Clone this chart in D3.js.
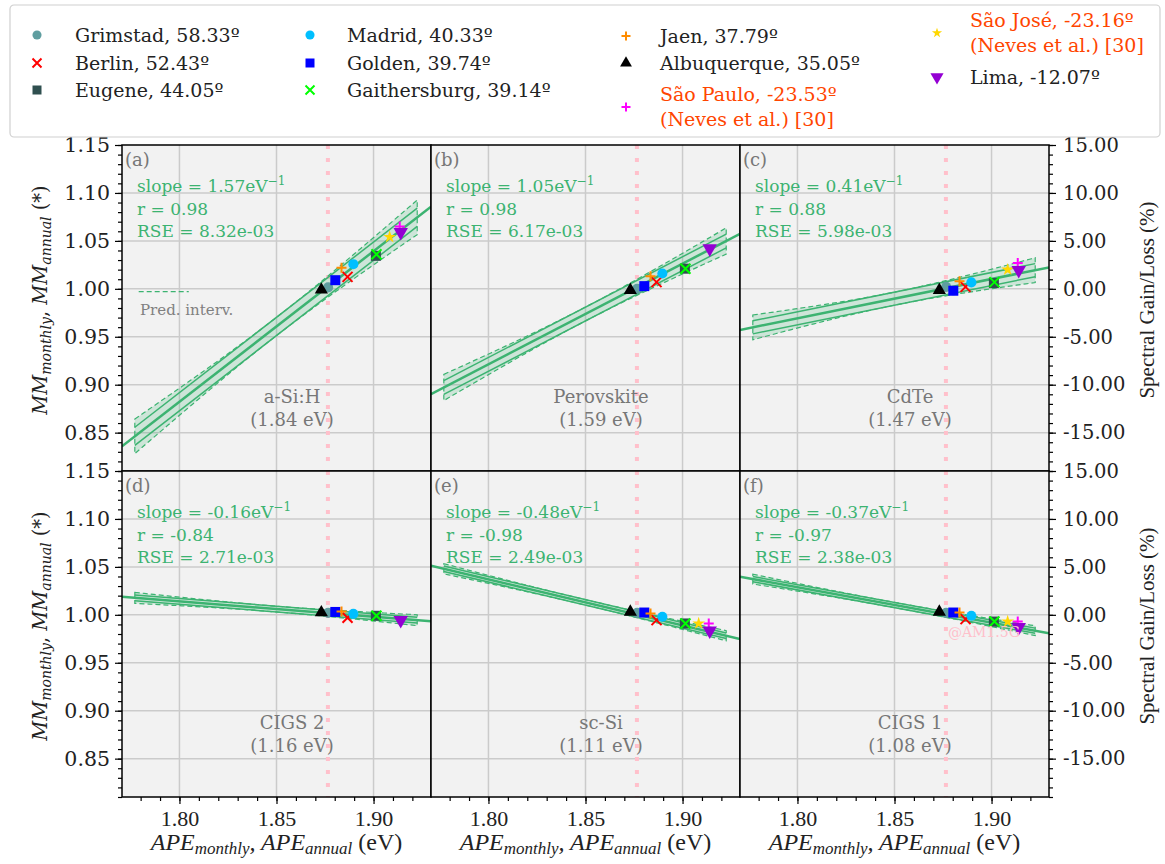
<!DOCTYPE html>
<html>
<head>
<meta charset="utf-8">
<script src="https://cdn.jsdelivr.net/npm/d3@7"></script>
<style>
  body { margin: 0; background: #fff; }
  svg { display: block; font-family: "DejaVu Serif", serif; }
</style>
</head>
<body>
<svg id="chart" width="1165" height="864"></svg>
<script>
// ---- data ----
const siteNames = ["Grimstad, 58.33º", "Berlin, 52.43º", "Eugene, 44.05º", "Madrid, 40.33º",
  "Golden, 39.74º", "Gaithersburg, 39.14º", "Jaen, 37.79º", "Albuquerque, 35.05º",
  "São Paulo, -23.53º\n(Neves et al.) [30]", "São José, -23.16º\n(Neves et al.) [30]", "Lima, -12.07º"];
const siteColors = ["#5f9ea0", "#ff0000", "#2f4f4f", "#00bfff", "#0000ff", "#00ff00",
  "#ff8c00", "#000000", "#ff00ff", "#ffd700", "#9400d3"];
const siteShapes = ["circle", "x", "square", "circle", "square", "x", "plus", "triUp", "plus", "star", "triDown"];
const siteApe = [1.8766, 1.8866, 1.9012, 1.8896, 1.8803, 1.9015, 1.8835, 1.8731, 1.9135, 1.9083, 1.9140];

const panelLetters = ["(a)", "(b)", "(c)", "(d)", "(e)", "(f)"];
const materials = ["a-Si:H", "Perovskite", "CdTe", "CIGS 2", "sc-Si", "CIGS 1"];
const bandgaps = ["(1.84 eV)", "(1.59 eV)", "(1.47 eV)", "(1.16 eV)", "(1.11 eV)", "(1.08 eV)"];
const slopeLabels = ["1.57", "1.05", "0.41", "-0.16", "-0.48", "-0.37"];
const rLabels = ["0.98", "0.98", "0.88", "-0.84", "-0.98", "-0.97"];
const rseLabels = ["8.32e-03", "6.17e-03", "5.98e-03", "2.71e-03", "2.49e-03", "2.38e-03"];
const slopes = [1.57, 1.05, 0.41, -0.16, -0.48, -0.37];
const fitAtRef = [1.000, 1.000, 1.000, 1.002, 1.001, 1.001];   // fitted MM at APE = 1.875
const predHalf = [0.0095, 0.0072, 0.0068, 0.0030, 0.0028, 0.0027];

// MM per site, one array per panel (null = not shown)
const mmA = [1.0015, 1.0125, 1.0344, 1.0257, 1.0090, 1.0360, 1.0220, 0.9990, 1.0650, 1.0540, 1.0590];
const mmB = [1.0000, 1.0070, 1.0210, 1.0160, 1.0028, 1.0210, 1.0130, 0.9986, null, null, 1.0420];
const mmC = [1.0020, 1.0020, 1.0060, 1.0067, 0.9980, 1.0070, 1.0080, 0.9986, 1.0270, 1.0200, 1.0195];
const mmD = [1.0020, 0.9970, 0.9990, 1.0010, 1.0030, 0.9990, 1.0034, 1.0024, null, null, 0.9945];
const mmE = [1.0020, 0.9945, 0.9910, 0.9980, 1.0024, 0.9910, 1.0014, 1.0030, 0.9910, 0.9910, 0.9834];
const mmF = [1.0020, 0.9955, 0.9930, 0.9990, 1.0024, 0.9930, 1.0024, 1.0030, 0.9930, 0.9930, 0.9870];
const mmPanels = [mmA, mmB, mmC, mmD, mmE, mmF];

const apeRef = 1.875;        // pivot of the fitted lines
const apeAM15G = 1.8765;     // pink reference line
const bandRange = [1.777, 1.9225];
const xTicks = [1.80, 1.85, 1.90];
const yTicks = [0.85, 0.90, 0.95, 1.00, 1.05, 1.10, 1.15];
const pctTicks = [-15, -10, -5, 0, 5, 10, 15];

// ---- layout ----
const plotLeft = 122, panelW = 309, plotTop = 145, rowH = 326;
const green = "#3cb371";
const svg = d3.select("#chart");

const xScale = i => d3.scaleLinear().domain([1.7704, 1.9296]).range([plotLeft + i * panelW, plotLeft + (i + 1) * panelW]);
const yScale = r => d3.scaleLinear().domain([0.81, 1.15]).range([plotTop + (r + 1) * rowH, plotTop + r * rowH]);

function symbolPath(shape, size) {
  if (shape === "circle") return d3.symbol(d3.symbolCircle, size * size * 0.8)();
  if (shape === "square") return d3.symbol(d3.symbolSquare, size * size)();
  if (shape === "triUp" || shape === "triDown") return d3.symbol(d3.symbolTriangle, size * size * 0.75)();
  if (shape === "star") return d3.symbol(d3.symbolStar, size * size * 0.5)();
}
function drawMarker(g, shape, color, cx, cy, size) {
  const s = size / 2;
  if (shape === "x") {
    g.append("path").attr("d", `M${cx - s},${cy - s}L${cx + s},${cy + s}M${cx - s},${cy + s}L${cx + s},${cy - s}`)
      .attr("stroke", color).attr("stroke-width", 2).attr("fill", "none");
  } else if (shape === "plus") {
    g.append("path").attr("d", `M${cx - s},${cy}L${cx + s},${cy}M${cx},${cy - s}L${cx},${cy + s}`)
      .attr("stroke", color).attr("stroke-width", 2).attr("fill", "none");
  } else {
    g.append("path").attr("d", symbolPath(shape, size))
      .attr("transform", `translate(${cx},${cy})` + (shape === "triDown" ? " rotate(180)" : ""))
      .attr("fill", color);
  }
}

// ---- panels ----
const defs = svg.append("defs");
for (let p = 0; p < 6; p++) {
  const col = p % 3, row = Math.floor(p / 3);
  const xs = xScale(col), ys = yScale(row);
  const x0 = xs.range()[0], x1 = xs.range()[1], y0 = ys.range()[1], y1 = ys.range()[0];
  const g = svg.append("g");
  defs.append("clipPath").attr("id", "clip" + p).append("rect")
    .attr("x", x0).attr("y", y0).attr("width", x1 - x0).attr("height", y1 - y0);

  g.append("rect").attr("x", x0).attr("y", y0).attr("width", x1 - x0).attr("height", y1 - y0).attr("fill", "#f2f2f2");

  // grid
  g.selectAll(".vg").data(xTicks).join("line")
    .attr("x1", d => xs(d)).attr("x2", d => xs(d)).attr("y1", y0).attr("y2", y1)
    .attr("stroke", "#cbcbcb").attr("stroke-width", 1.5);
  g.selectAll(".hg").data(yTicks.slice(0, -1)).join("line")
    .attr("x1", x0).attr("x2", x1).attr("y1", d => ys(d)).attr("y2", d => ys(d))
    .attr("stroke", "#cbcbcb").attr("stroke-width", 1.5);

  // AM1.5G reference
  g.append("line").attr("x1", xs(apeAM15G)).attr("x2", xs(apeAM15G)).attr("y1", y0).attr("y2", y1)
    .attr("stroke", "#ffc0cb").attr("stroke-width", 4).attr("stroke-dasharray", "4,9");

  const pg = g.append("g").attr("clip-path", `url(#clip${p})`);
  const fit = a => fitAtRef[p] + slopes[p] * (a - apeRef);
  const mid = (bandRange[0] + bandRange[1]) / 2;
  const half = a => predHalf[p] * Math.sqrt(1 + Math.pow((a - mid) / 0.045, 2));
  const bx = d3.range(0, 61).map(k => bandRange[0] + (bandRange[1] - bandRange[0]) * k / 60);

  const area = d3.area().x(a => xs(a)).y0(a => ys(fit(a) - half(a))).y1(a => ys(fit(a) + half(a)));
  pg.append("path").attr("d", area(bx)).attr("fill", green).attr("fill-opacity", 0.2)
    .attr("stroke", green).attr("stroke-width", 1.2).attr("stroke-dasharray", "5,3");

  const line = d3.line().x(d => xs(d[0])).y(d => ys(d[1]));
  [-1, 1].forEach(sgn => {
    pg.append("path").attr("d", line(bandRange.map(a => [a, fit(a) + sgn * predHalf[p]])))
      .attr("stroke", green).attr("stroke-width", 1.5).attr("fill", "none");
  });
  pg.append("path").attr("d", line(xs.domain().map(a => [a, fit(a)])))
    .attr("stroke", green).attr("stroke-width", 2.5).attr("fill", "none");

  // points
  const mm = mmPanels[p];
  siteApe.forEach((a, i) => {
    if (mm[i] == null) return;
    drawMarker(pg, siteShapes[i], siteColors[i], xs(a), ys(mm[i]), siteShapes[i] === "triDown" ? 11 : 10);
  });

  // texts
  g.append("text").attr("x", x0 + 3).attr("y", y0 + 21).attr("fill", "#777").attr("font-size", 18).text(panelLetters[p]);
  const st = g.append("text").attr("x", x0 + 15).attr("y", y0 + 47).attr("fill", green).attr("font-size", 17);
  st.append("tspan").text(`slope = ${slopeLabels[p]}eV`);
  st.append("tspan").attr("dy", -7).attr("font-size", 12).text("−1");
  g.append("text").attr("x", x0 + 15).attr("y", y0 + 70).attr("fill", green).attr("font-size", 17).text(`r = ${rLabels[p]}`);
  g.append("text").attr("x", x0 + 15).attr("y", y0 + 92).attr("fill", green).attr("font-size", 17).text(`RSE = ${rseLabels[p]}`);
  g.append("text").attr("x", xs(1.858)).attr("y", ys(0.888)).attr("text-anchor", "middle").attr("dy", "0.35em")
    .attr("fill", "#777").attr("font-size", 18).text(materials[p]);
  g.append("text").attr("x", xs(1.858)).attr("y", ys(0.863)).attr("text-anchor", "middle").attr("dy", "0.35em")
    .attr("fill", "#777").attr("font-size", 18).text(bandgaps[p]);

  if (p === 0) {
    g.append("line").attr("x1", xs(1.7790)).attr("x2", xs(1.8048)).attr("y1", ys(0.997)).attr("y2", ys(0.997))
      .attr("stroke", green).attr("stroke-width", 1.2).attr("stroke-dasharray", "5,3");
    g.append("text").attr("x", x0 + 18).attr("y", ys(0.978)).attr("dy", "0.35em").attr("fill", "#808080")
      .attr("font-size", 15).text("Pred. interv.");
  }
  if (p === 5) {
    g.append("text").attr("x", xs(apeAM15G) + 2).attr("y", ys(0.982)).attr("dy", "0.35em").attr("fill", "#ffc0cb")
      .attr("font-size", 14).text("@AM1.5G");
  }

  // frame
  g.append("rect").attr("x", x0).attr("y", y0).attr("width", x1 - x0).attr("height", y1 - y0)
    .attr("fill", "none").attr("stroke", "#000").attr("stroke-width", 1.5);

  // axes
  if (col === 0) {
    const ax = g.append("g").attr("transform", `translate(${x0},0)`)
      .call(d3.axisLeft(ys).tickValues(yTicks).tickFormat(d3.format(".2f")).tickSize(7).tickPadding(5));
    ax.append("g").call(d3.axisLeft(ys).tickValues(d3.range(81, 116).map(v => v / 100)).tickFormat("").tickSize(4));
    ax.selectAll(".domain").remove();
    ax.selectAll("line").attr("stroke", "#000").attr("stroke-width", 1.2);
    ax.selectAll("text").style("font-family", "DejaVu Serif").style("font-size", "20.5px").attr("fill", "#222");
    const lab = g.append("text").attr("transform", `translate(47,${(y0 + y1) / 2 - 8}) rotate(-90)`)
      .attr("text-anchor", "middle").attr("font-size", 19.5).attr("fill", "#222");
    lab.append("tspan").attr("font-style", "italic").text("MM");
    lab.append("tspan").attr("font-style", "italic").attr("font-size", 14).attr("dy", 4).text("monthly");
    lab.append("tspan").attr("dy", -4).text(", ");
    lab.append("tspan").attr("font-style", "italic").text("MM");
    lab.append("tspan").attr("font-style", "italic").attr("font-size", 14).attr("dy", 4).text("annual");
    lab.append("tspan").attr("dy", -4).text("  (*)");
  }
  if (col === 2) {
    const pct = d3.scaleLinear().domain([(0.81 - 1) * 100, (1.15 - 1) * 100]).range(ys.range());
    const ax = g.append("g").attr("transform", `translate(${x1},0)`)
      .call(d3.axisRight(pct).tickValues(pctTicks).tickFormat(d => d3.format(".2f")(d).replace("−", "-")).tickSize(7).tickPadding(7));
    ax.append("g").call(d3.axisRight(pct).tickValues(d3.range(-19, 16)).tickFormat("").tickSize(4));
    ax.selectAll(".domain").remove();
    ax.selectAll("line").attr("stroke", "#000").attr("stroke-width", 1.2);
    ax.selectAll("text").style("font-family", "DejaVu Serif").style("font-size", "19.5px").attr("fill", "#222");
    g.append("text").attr("transform", `translate(1154,${(y0 + y1) / 2 - 8}) rotate(-90)`)
      .attr("text-anchor", "middle").style("font-family", "Liberation Serif").attr("font-size", 21)
      .attr("fill", "#222").text("Spectral Gain/Loss (%)");
  }
  if (row === 1) {
    const ax = g.append("g").attr("transform", `translate(0,${y1})`)
      .call(d3.axisBottom(xs).tickValues(xTicks).tickFormat(d3.format(".2f")).tickSize(7).tickPadding(6));
    ax.append("g").call(d3.axisBottom(xs).tickValues(d3.range(178, 193).map(v => v / 100)).tickFormat("").tickSize(4));
    ax.selectAll(".domain").remove();
    ax.selectAll("line").attr("stroke", "#000").attr("stroke-width", 1.2);
    ax.selectAll("text").style("font-family", "Liberation Serif").style("font-size", "22px").attr("fill", "#222");
    const lab = g.append("text").attr("x", (x0 + x1) / 2).attr("y", 850).attr("text-anchor", "middle")
      .style("font-family", "Liberation Serif").attr("font-size", 24).attr("fill", "#222");
    lab.append("tspan").attr("font-style", "italic").text("APE");
    lab.append("tspan").attr("font-style", "italic").attr("font-size", 17).attr("dy", 4).text("monthly");
    lab.append("tspan").attr("dy", -4).attr("font-style", "italic").text(", APE");
    lab.append("tspan").attr("font-style", "italic").attr("font-size", 17).attr("dy", 4).text("annual");
    lab.append("tspan").attr("dy", -4).text(" (eV)");
  }
}

// ---- legend ----
const leg = svg.append("g");
leg.append("rect").attr("x", 10).attr("y", 5).attr("width", 1150).attr("height", 132).attr("rx", 4)
  .attr("fill", "#fff").attr("stroke", "#d0d0d0").attr("stroke-width", 1.2);
const legCols = [[37, 75], [310, 347], [626, 660], [937, 970]];
const legSlots = [[0, 35], [0, 63], [0, 90], [1, 35], [1, 63], [1, 90], [2, 36], [2, 63], [2, 107], [3, 33], [3, 77]];
siteNames.forEach((name, i) => {
  const [c, cy] = legSlots[i];
  drawMarker(leg, siteShapes[i], siteColors[i], legCols[c][0], cy, siteShapes[i] === "triDown" ? 10 : (siteShapes[i] === "star" ? 8 : 9));
  const lines = name.split("\n");
  const red = lines.length > 1;
  const t = leg.append("text").attr("y", cy - (lines.length - 1) * 12.5)
    .attr("font-size", 19).attr("fill", red ? "#ff4500" : "#222");
  lines.forEach((ln, k) => t.append("tspan").attr("x", legCols[c][1]).attr("dy", k === 0 ? "0.35em" : 25).text(ln));
});
</script>
</body>
</html>
